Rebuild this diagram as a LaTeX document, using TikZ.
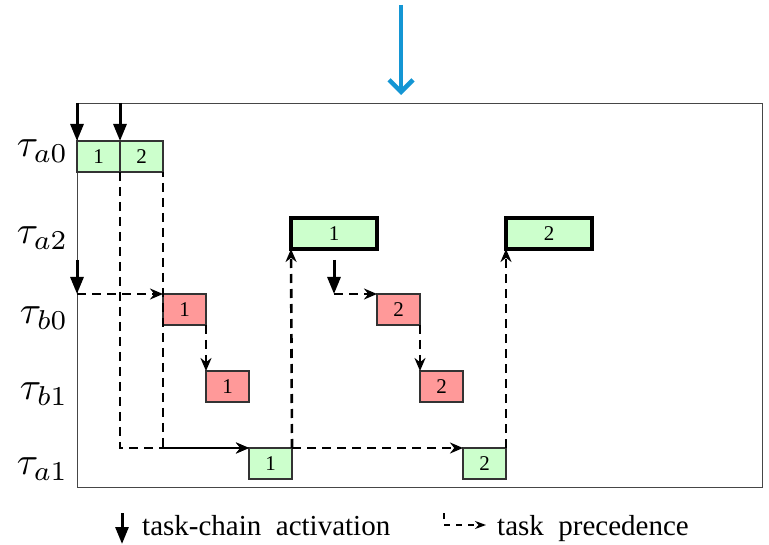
\documentclass[tikz,border=0pt]{standalone}
\usepackage{fontspec}
\setmainfont{Liberation Serif}
\newfontfamily\timesfont{Liberation Serif}
\usetikzlibrary{arrows.meta}
\definecolor{boxgreen}{RGB}{204,255,204}
\definecolor{boxred}{RGB}{255,153,153}
\definecolor{arrowblue}{RGB}{20,150,212}
\definecolor{framegray}{RGB}{70,70,70}
\tikzset{
  jobbox/.style={draw=black!80, line width=1.1pt, inner sep=0pt, outer sep=0pt,
    minimum width=43pt, minimum height=31pt, anchor=north west,
    font=\timesfont\fontsize{21}{23}\selectfont},
  gbox/.style={jobbox, fill=boxgreen},
  rbox/.style={jobbox, fill=boxred},
  longbox/.style={jobbox, fill=boxgreen, draw=black, line width=3.5pt, minimum width=86pt},
  act/.style={line width=3pt, -{Triangle[length=17pt,width=13pt]}},
  dep/.style={line width=2.6pt, dash pattern=on 9pt off 6pt, -{Stealth[length=13pt,width=11pt]}},
  rowlabel/.style={anchor=east, scale=3.9, inner sep=0pt},
  legendtext/.style={anchor=base west, font=\timesfont\fontsize{29}{31}\selectfont, inner sep=0pt}
}
\begin{document}
\begin{tikzpicture}[x=1pt,y=-1pt]
\useasboundingbox (0,0) rectangle (769,545);
% blue arrow
\coordinate (bluetop) at (401,5);
\coordinate (bluetip) at (401,95);
\draw[arrowblue, line width=4.5pt, -{Straight Barb[length=12pt,width=24pt]}] (bluetop) -- (bluetip);
% frame
\node[draw=framegray, line width=1.4pt, inner sep=0pt, minimum width=685pt, minimum height=384pt, anchor=north west] (frame) at (77,103) {};
% row labels
\node[rowlabel] (la0) at (69,151) {$\tau_{a0}$};
\node[rowlabel] (la2) at (69,238) {$\tau_{a2}$};
\node[rowlabel] (lb0) at (69,318) {$\tau_{b0}$};
\node[rowlabel] (lb1) at (69,394) {$\tau_{b1}$};
\node[rowlabel] (la1) at (69,469) {$\tau_{a1}$};
% boxes
\node[gbox] (a01) at (77,141) {1};
\node[gbox] (a02) at (120,141) {2};
\node[longbox] (a21) at (291,218) {1};
\node[longbox] (a22) at (506,218) {2};
\node[rbox] (b01) at (163,294) {1};
\node[rbox] (b02) at (377,294) {2};
\node[rbox] (b11) at (206,371) {1};
\node[rbox] (b12) at (420,371) {2};
\node[gbox] (a11) at (249,448) {1};
\node[gbox] (a12) at (463,448) {2};
% activation start points
\coordinate (acta1) at (77,103);
\coordinate (acta2) at (120,103);
\coordinate (actb1top) at (77,260);
\coordinate (actb1) at (77,294);
\coordinate (actb2top) at (334,260);
\coordinate (actb2) at (334,294);
% precedence
\draw[dep] (a01.south east) |- (a11.north west);
\draw[dep, dash phase=4pt] (a02.south east) |- (a11.north west);
\draw[dep] (actb1) -- (b01.north west);
\draw[dep] (b01.south east) -- (b11.north west);
\draw[dep] (a11.north east) -- (a21.south west);
\draw[dep] (a11.north east) -- (a12.north west);
\draw[dep] (actb2) -- (b02.north west);
\draw[dep] (b02.south east) -- (b12.north west);
\draw[dep] (a12.north east) -- (a22.south west);
% activations
\draw[act] (acta1) -- (a01.north west);
\draw[act] (acta2) -- (a02.north west);
\draw[act] (actb1top) -- (actb1);
\draw[act] (actb2top) -- (actb2);
% legend
\coordinate (lg1a) at (122,513);
\coordinate (lg1b) at (122,544);
\draw[act] (lg1a) -- (lg1b);
\node[legendtext] (lt1) at (142,535) {task-chain\ \ activation};
\coordinate (lg2a) at (444,513);
\coordinate (lg2b) at (444,525);
\coordinate (lg2c) at (486,525);
\draw[line width=1.8pt, dash pattern=on 6pt off 6pt, -{Stealth[length=11pt,width=8pt]}] (lg2a) -- (lg2b) -- (lg2c);
\node[legendtext] (lt2) at (497,535) {task\ \ precedence};
\end{tikzpicture}
\end{document}
